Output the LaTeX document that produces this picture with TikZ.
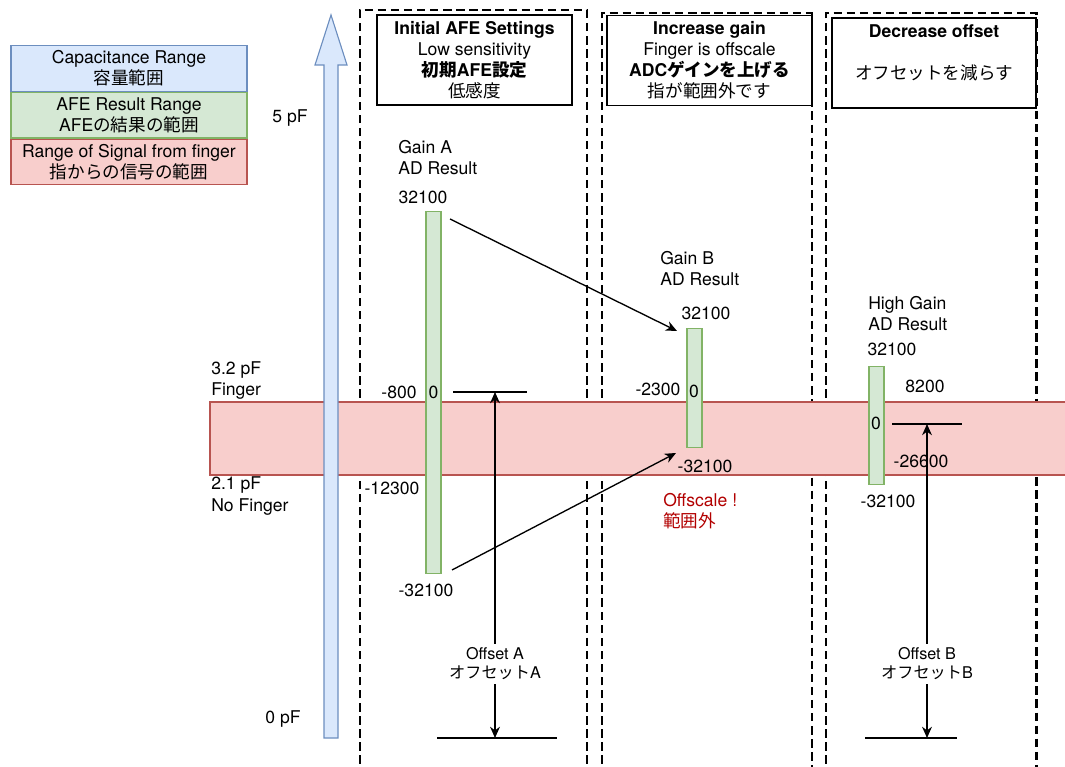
\documentclass[tikz,border=0pt]{standalone}
\usepackage{fontspec}
\setmainfont{TeX Gyre Heros}
\newfontfamily\jpfont{Noto Sans CJK JP}
\newcommand{\jtext}[1]{{\jpfont #1}}
\usetikzlibrary{arrows.meta,positioning}
\definecolor{capfill}{HTML}{DAE8FC}
\definecolor{capdraw}{HTML}{6C8EBF}
\definecolor{afefill}{HTML}{D5E8D4}
\definecolor{afedraw}{HTML}{82B366}
\definecolor{sigfill}{HTML}{F8CECC}
\definecolor{sigdraw}{HTML}{B85450}
\definecolor{offred}{HTML}{B20000}

\begin{document}
\begin{tikzpicture}[
  x=0.025cm, y=-0.025cm,
  node distance=0pt,
  every node/.style={font=\fontsize{12.5}{15}\selectfont, inner sep=0pt},
  capbox/.style={draw=capdraw, fill=capfill, minimum width=5.9cm,
    minimum height=1.16cm, align=center, line width=0.8pt},
  afebox/.style={capbox, draw=afedraw, fill=afefill, minimum height=1.13cm},
  sigbox/.style={capbox, draw=sigdraw, fill=sigfill, minimum height=1.13cm},
  headbox/.style={draw, fill=white, minimum width=4.875cm,
    minimum height=2.25cm, align=center, line width=0.9pt},
  frame/.style={line width=1.9pt, dash pattern=on 6pt off 3.3pt},
  bar/.style={draw=afedraw, fill=afefill, minimum width=0.375cm,
    line width=0.8pt, anchor=north},
  tag/.style={align=left, anchor=west},
  warn/.style={tag, text=offred},
  arr/.style={-{Stealth[length=8pt,width=7pt]}, line width=0.95pt},
  offarr/.style={{Stealth[length=8pt,width=7pt]}-{Stealth[length=8pt,width=7pt]},
    line width=0.95pt},
  level/.style={line width=0.95pt},
  offlab/.style={fill=white, align=center, font=\fontsize{11.5}{13.5}\selectfont,
    inner xsep=1pt, inner ysep=2.5pt}
]
  \useasboundingbox (0,0) rectangle (1065,767);
  \clip (0,0) rectangle (1065,767);

  % legend
  \node[capbox] (caplegend) at (129,68.5) {Capacitance Range\\\jtext{容量範囲}};
  \node[afebox, below=of caplegend] (afelegend) {AFE Result Range\\AFE\jtext{の結果の範囲}};
  \node[sigbox, below=of afelegend] (siglegend) {Range of Signal from finger\\\jtext{指からの信号の範囲}};

  % step headers
  \node[headbox] (initbox) at (474.5,60)
    {\textbf{Initial AFE Settings}\\Low sensitivity\\\textbf{\jtext{初期}AFE\jtext{設定}}\\\jtext{低感度}};
  \node[headbox, minimum width=5.125cm] (gainbox) at (709.5,60.5)
    {\textbf{Increase gain}\\Finger is offscale\\\textbf{ADC\jtext{ゲインを上げる}}\\\jtext{指が範囲外です}};
  \node[headbox, minimum width=5.1cm] (offsetbox) at (934,63)
    {\textbf{Decrease offset}\\\mbox{}\\\jtext{オフセットを減らす}\\\mbox{}};

  % dashed step frames
  \draw[frame] (360,790) |- (587,10) -- (587,790);
  \draw[frame] (602,790) |- (812,13) -- (812,790);
  \draw[frame] (826,790) |- (1036.5,13) -- (1036.5,790);

  % finger signal band
  \draw[sigdraw, fill=sigfill, line width=0.8pt] (210,402) rectangle (1080,475);

  % capacitance axis
  \draw[capdraw, fill=capfill, line width=0.8pt]
    (324,738) -- (324,65) -- (315,65) -- (331,15) -- (347,65) -- (338,65) -- (338,738) -- cycle;
  \node (fivepf) at (290,118) {5 pF};
  \node[tag] (fingerlab) at (211,380.5) {3.2 pF\\Finger};
  \node[tag] (nofingerlab) at (211,496) {2.1 pF\\No Finger};
  \node (zeropf) at (283,719) {0 pF};

  % AD result bars
  \node[bar, minimum height=9.05cm] (barA) at (433.5,211) {};
  \node[bar, minimum height=2.975cm] (barB) at (694.5,328) {};
  \node[bar, minimum height=2.95cm] (barC) at (876.5,366) {};

  % gain A
  \node[tag] (gainAlab) at (398,157.5) {Gain A\\AD Result};
  \node (topA) at (423,197) {32100};
  \node (leftA) at (399,392) {-800};
  \node (zeroA) at (433.5,392) {0};
  \node (midA) at (392,488) {-12300};
  \node (lowA) at (426,590) {-32100};

  % gain B
  \node[tag] (gainBlab) at (660,268.5) {Gain B\\AD Result};
  \node (topB) at (706,313) {32100};
  \node (leftB) at (658,389) {-2300};
  \node (zeroB) at (694,391) {0};
  \node (lowB) at (705,466) {-32100};
  \node[warn] (offscale) at (663,511) {Offscale !\\\jtext{範囲外}};

  % high gain
  \node[tag] (gainClab) at (868,313.5) {High Gain\\AD Result};
  \node (topC) at (892,349) {32100};
  \node (hiC) at (925,386) {8200};
  \node (zeroC) at (876,423) {0};
  \node (midC) at (921,461) {-26600};
  \node (lowC) at (888,501) {-32100};

  % gain change arrows
  \coordinate (gA1) at (450,219);
  \coordinate (gB1) at (677,331);
  \coordinate (gA2) at (452,570);
  \coordinate (gB2) at (676,453);
  \draw[arr] (gA1) -- (gB1);
  \draw[arr] (gA2) -- (gB2);

  % offsets
  \coordinate (levA) at (495,392);
  \coordinate (baseA) at (495,738);
  \coordinate (levB) at (927,424);
  \coordinate (baseB) at (927,738);
  \draw[level] (453,392) -- (527,392);
  \draw[level] (437,738) -- (557,738);
  \draw[level] (892,424) -- (962,424);
  \draw[level] (865,738) -- (957,738);
  \draw[offarr] (baseA) -- node[offlab, pos=0.214] (offAlab) {Offset A\\\jtext{オフセット}A} (levA);
  \draw[offarr] (baseB) -- node[offlab, pos=0.236] (offBlab) {Offset B\\\jtext{オフセット}B} (levB);
\end{tikzpicture}
\end{document}
